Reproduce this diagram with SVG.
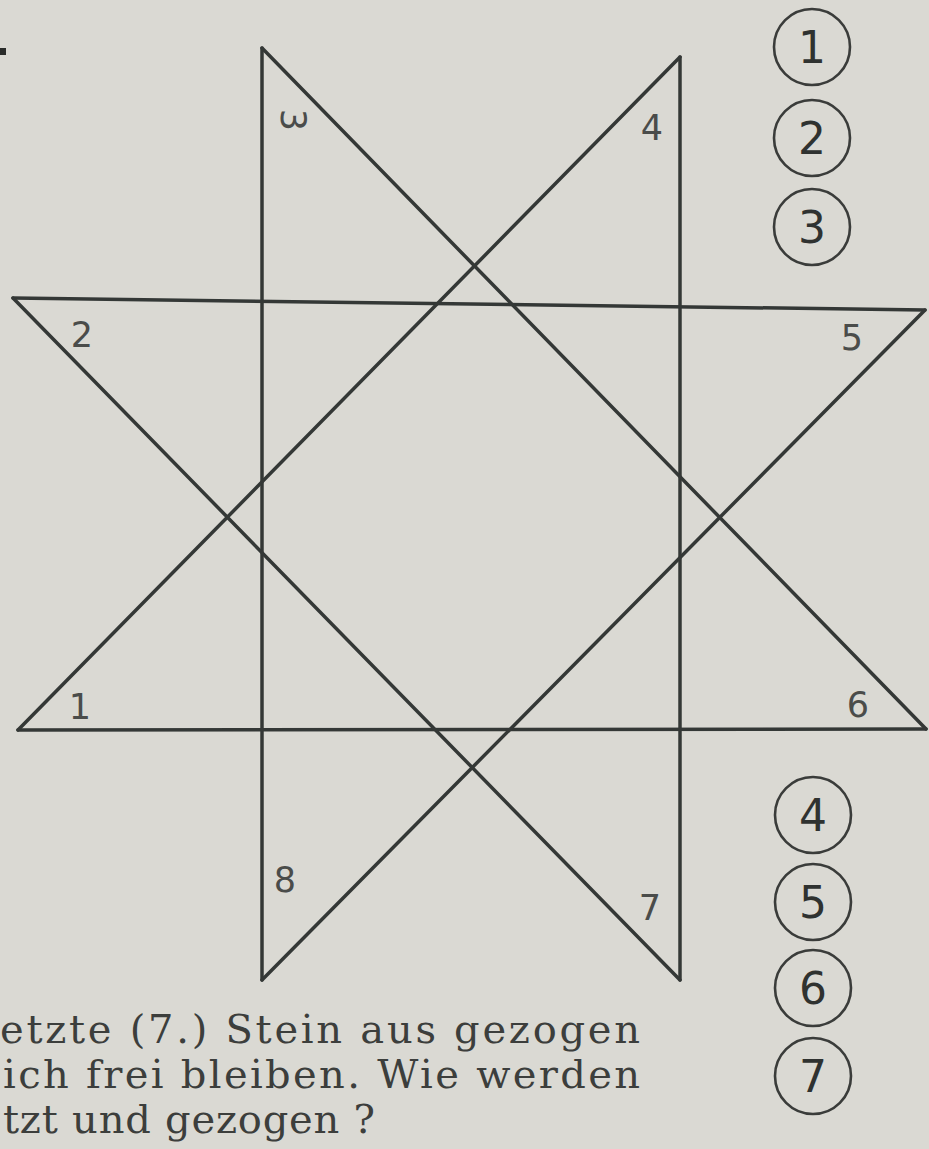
<svg xmlns="http://www.w3.org/2000/svg" width="929" height="1149" viewBox="0 0 929 1149">
<style>
.ln{stroke:#343836;stroke-width:3.5;stroke-linecap:round;fill:none}
.lb{font-family:"DejaVu Sans",sans-serif;font-size:35px;fill:#4a4c4a;text-anchor:middle;dominant-baseline:central}
.cc{fill:none;stroke:#3a3c3a;stroke-width:2.6}
.cn{font-family:"DejaVu Sans",sans-serif;font-size:44px;fill:#2f3230;text-anchor:middle;dominant-baseline:central}
.tx{font-family:"DejaVu Serif",serif;font-size:40px;fill:#3c3e3c}
</style>
<rect width="929" height="1149" fill="#dad9d3"/>
<rect x="0" y="48" width="6" height="7" fill="#2a2c2a"/>
<g id="star">
<line class="ln" x1="262" y1="48" x2="262" y2="980"/>
<line class="ln" x1="680" y1="57" x2="680" y2="980"/>
<line class="ln" x1="13" y1="298" x2="925" y2="310"/>
<line class="ln" x1="18" y1="730" x2="926" y2="729"/>
<line class="ln" x1="262" y1="48" x2="926" y2="729"/>
<line class="ln" x1="680" y1="57" x2="18" y2="730"/>
<line class="ln" x1="13" y1="298" x2="680" y2="980"/>
<line class="ln" x1="925" y1="310" x2="262" y2="980"/>
</g>
<g id="labels">
<text class="lb" transform="translate(293,120) rotate(90)">3</text>
<text class="lb" x="652" y="128">4</text>
<text class="lb" x="82" y="335">2</text>
<text class="lb" x="852" y="338">5</text>
<text class="lb" x="80" y="707">1</text>
<text class="lb" x="858" y="705">6</text>
<text class="lb" x="285" y="880">8</text>
<text class="lb" x="650" y="908">7</text>
</g>
<g id="c1"><circle class="cc" cx="812" cy="47" r="38"/><text class="cn" x="812" y="47">1</text></g>
<g id="c2"><circle class="cc" cx="812" cy="138" r="38"/><text class="cn" x="812" y="138">2</text></g>
<g id="c3"><circle class="cc" cx="812" cy="227" r="38"/><text class="cn" x="812" y="227">3</text></g>
<g id="c4"><circle class="cc" cx="813" cy="815" r="38"/><text class="cn" x="813" y="815">4</text></g>
<g id="c5"><circle class="cc" cx="813" cy="902" r="38"/><text class="cn" x="813" y="902">5</text></g>
<g id="c6"><circle class="cc" cx="813" cy="988" r="38"/><text class="cn" x="813" y="988">6</text></g>
<g id="c7"><circle class="cc" cx="813" cy="1076" r="38"/><text class="cn" x="813" y="1076">7</text></g>
<g id="text">
<text class="tx" x="0" y="1043" textLength="640" lengthAdjust="spacing">etzte (7.) Stein aus gezogen</text>
<text class="tx" x="3" y="1088" textLength="637" lengthAdjust="spacing">ich frei bleiben. Wie werden</text>
<text class="tx" x="3" y="1133" textLength="372" lengthAdjust="spacing">tzt und gezogen ?</text>
</g>
</svg>
